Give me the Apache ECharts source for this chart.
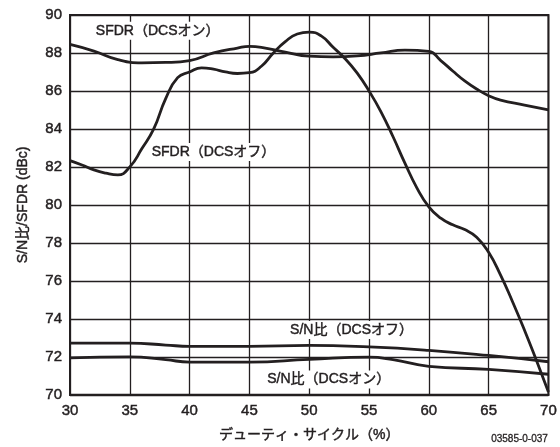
<!DOCTYPE html>
<html>
<head>
<meta charset="utf-8">
<script src="https://cdn.jsdelivr.net/npm/echarts@6/dist/echarts.min.js"></script>
<style>html,body{margin:0;padding:0;background:#fff;}#c{width:560px;height:447px;}</style>
</head>
<body>
<div id="c"></div>
<script>
// ---- data ----
var xTicks = [30, 35, 40, 45, 50, 55, 60, 65, 70];
var yTicks = [70, 72, 74, 76, 78, 80, 82, 84, 86, 88, 90];

var sfdrOnX = [30, 32, 34, 36, 38, 40, 42, 44, 45, 46, 48, 50, 52, 54, 56, 58, 60, 61, 62, 63, 64, 65, 66, 68, 70];
var sfdrOnY = [88.45, 88.1, 87.65, 87.48, 87.5, 87.6, 88.0, 88.26, 88.35, 88.3, 88.05, 87.83, 87.8, 87.85, 88.0, 88.15, 88.08, 87.6, 87.05, 86.53, 86.1, 85.75, 85.52, 85.26, 85.0];

var sfdrOffX = [30, 31, 32, 33, 34, 35, 36, 37, 38, 39, 40, 41, 42, 43, 44, 45, 46, 47, 48, 49, 50, 51, 52, 53, 54, 55, 56, 57, 58, 59, 60, 61, 62, 63, 64, 65, 66, 67, 68, 69, 70];
var sfdrOffY = [82.33, 82.1, 81.84, 81.67, 81.58, 82.0, 82.95, 84.0, 85.6, 86.7, 87.0, 87.22, 87.15, 87.0, 86.92, 86.96, 87.3, 88.0, 88.6, 89.0, 89.1, 88.9, 88.3, 87.7, 86.95, 86.0, 84.9, 83.6, 82.2, 80.9, 79.9, 79.3, 78.95, 78.7, 78.3, 77.5, 76.3, 74.9, 73.4, 71.8, 70.15];

var snOffX = [30, 35, 38, 40, 45, 50, 55, 60, 65, 70];
var snOffY = [72.72, 72.72, 72.62, 72.55, 72.55, 72.6, 72.52, 72.34, 72.07, 71.74];

var snOnX = [30, 35, 38, 40, 45, 50, 55, 57, 60, 65, 70];
var snOnY = [71.94, 72.0, 71.85, 71.72, 71.72, 71.86, 71.98, 71.85, 71.5, 71.34, 71.08];

var labelTexts = ['SFDR（DCSオン）', 'SFDR（DCSオフ）', 'S/N比（DCSオフ）', 'S/N比（DCSオン）'];
var labelX = [37.33, 42.0, 53.54, 51.63];
var labelY = [89.17, 82.79, 73.41, 70.81];

// ---- build ----
function pairs(xs, ys) { return xs.map(function (x, i) { return [x, ys[i]]; }); }
var INK = '#231f20';
var FONT = '"Liberation Sans", Arial, "Noto Sans CJK JP", sans-serif';
var THICK = { textBorderColor: INK, textBorderWidth: 0.45 };

function lineSeries(xs, ys, li) {
  return {
    type: 'line', data: pairs(xs, ys), smooth: true, showSymbol: false,
    lineStyle: { color: INK, width: 2.8 }, silent: true, z: 3,
    markPoint: {
      symbol: 'rect', symbolSize: 0, silent: true,
      data: [{ coord: [labelX[li], labelY[li]] }],
      label: Object.assign({
        show: true, position: 'inside', formatter: labelTexts[li],
        color: INK, fontSize: 14, fontFamily: FONT,
        backgroundColor: '#fff', padding: [2, 3]
      }, THICK)
    }
  };
}

var chart = echarts.init(document.getElementById('c'), null, { renderer: 'canvas' });
chart.setOption({
  animation: false,
  backgroundColor: '#fff',
  grid: { left: 70, right: 11, top: 15, bottom: 48, show: true, borderColor: INK, borderWidth: 2, backgroundColor: 'transparent' },
  xAxis: {
    type: 'value', min: xTicks[0], max: xTicks[xTicks.length - 1], interval: 5,
    name: 'デューティ・サイクル（%）', nameLocation: 'middle', nameGap: 33,
    nameTextStyle: Object.assign({ color: INK, fontSize: 14, fontFamily: FONT }, THICK),
    axisLine: { show: true, lineStyle: { color: INK, width: 2 } },
    axisTick: { show: false },
    axisLabel: Object.assign({ color: INK, fontSize: 15, fontFamily: FONT, margin: 9 }, THICK),
    splitLine: { show: true, lineStyle: { color: INK, width: 1.3 } }
  },
  yAxis: {
    type: 'value', min: yTicks[0], max: yTicks[yTicks.length - 1], interval: 2,
    name: 'S/N比/SFDR (dBc)', nameLocation: 'middle', nameGap: 40,
    nameTextStyle: Object.assign({ color: INK, fontSize: 14, fontFamily: FONT }, THICK),
    axisLine: { show: true, lineStyle: { color: INK, width: 2 } },
    axisTick: { show: false },
    axisLabel: Object.assign({ color: INK, fontSize: 15, fontFamily: FONT, margin: 8 }, THICK),
    splitLine: { show: true, lineStyle: { color: INK, width: 1.3 } }
  },
  series: [
    lineSeries(sfdrOnX, sfdrOnY, 0),
    lineSeries(sfdrOffX, sfdrOffY, 1),
    lineSeries(snOffX, snOffY, 2),
    lineSeries(snOnX, snOnY, 3)
  ],
  graphic: [{
    type: 'text', right: 12, top: 434,
    style: { text: '03585-0-037', fill: INK, font: '10px ' + FONT, stroke: INK, lineWidth: 0.3 }
  }]
});
</script>
</body>
</html>
